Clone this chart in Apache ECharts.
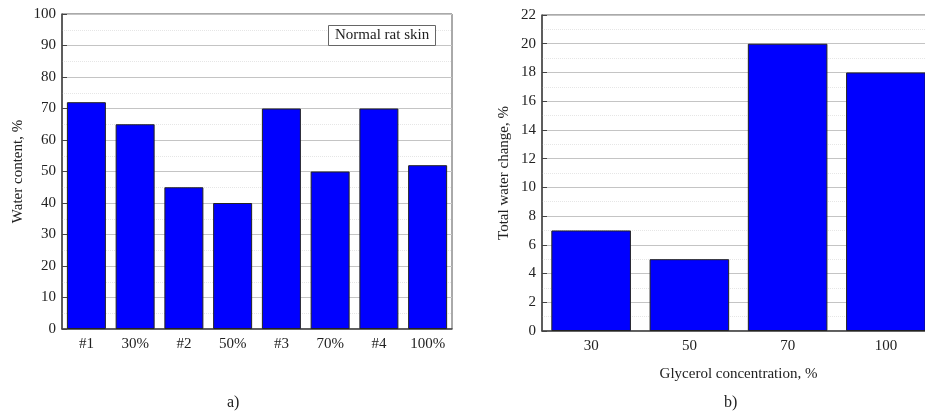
<!DOCTYPE html>
<html>
<head>
<meta charset="utf-8">
<script src="https://cdn.jsdelivr.net/npm/echarts@6/dist/echarts.min.js"></script>
<style>html,body{margin:0;padding:0;background:#fff;overflow:hidden;}#c{width:940px;height:413px;}</style>
</head>
<body>
<div id="c"></div>
<script>
const catsA = ['#1', '30%', '#2', '50%', '#3', '70%', '#4', '100%'];
const valsA = [72, 65, 45, 40, 70, 50, 70, 52];
const catsB = ['30', '50', '70', '100'];
const valsB = [7, 5, 20, 18];

const FONT = '"Liberation Serif", "Times New Roman", serif';
const TXT = '#222';

const chart = echarts.init(document.getElementById('c'), null, {renderer: 'canvas'});

function yAx(gi, min, max, interval, name, gap) {
  return {
    type: 'value', gridIndex: gi, min: min, max: max, interval: interval,
    name: name, nameLocation: 'middle', nameGap: gap, nameRotate: 90,
    nameTextStyle: {fontFamily: FONT, fontSize: 15, color: TXT},
    axisLine: {show: true, lineStyle: {color: '#444', width: 1.5}},
    axisTick: {show: true, inside: true, length: 5, lineStyle: {color: '#444'}},
    minorTick: {show: false, splitNumber: 2},
    axisLabel: {fontFamily: FONT, fontSize: 15, color: TXT, margin: 6},
    splitLine: {show: true, lineStyle: {color: '#c4c4c4', width: 1}},
    minorSplitLine: {show: true, lineStyle: {color: '#e6e6e6', width: 1, type: 'dotted'}}
  };
}
function xAx(gi, data, name) {
  return {
    type: 'category', gridIndex: gi, data: data,
    name: name, nameLocation: 'middle', nameGap: 36,
    nameTextStyle: {fontFamily: FONT, fontSize: 15, color: TXT},
    axisLine: {show: true, lineStyle: {color: '#444', width: 1.5}},
    axisTick: {show: true, inside: true, alignWithLabel: true, length: 5, lineStyle: {color: '#444'}},
    axisLabel: {fontFamily: FONT, fontSize: 15, color: TXT, margin: 8},
    splitLine: {show: false}
  };
}

chart.setOption({
  animation: false,
  backgroundColor: '#fff',
  title: [
    {text: 'Normal rat skin', left: 328, top: 25, padding: [3, 7, 3, 7],
     borderColor: '#666', borderWidth: 1, backgroundColor: '#fff',
     textStyle: {fontFamily: FONT, fontSize: 15, fontWeight: 'normal', color: TXT}},
    {text: 'a)', left: 227, top: 395, padding: 0,
     textStyle: {fontFamily: FONT, fontSize: 16, fontWeight: 'normal', color: TXT}},
    {text: 'b)', left: 724, top: 395, padding: 0,
     textStyle: {fontFamily: FONT, fontSize: 16, fontWeight: 'normal', color: TXT}}
  ],
  grid: [
    {left: 62, top: 14, width: 390, height: 315, show: true, borderColor: '#555', borderWidth: 1, containLabel: false},
    {left: 542, top: 15, width: 393, height: 316, show: true, borderColor: '#555', borderWidth: 1, containLabel: false}
  ],
  xAxis: [xAx(0, catsA, ''), xAx(1, catsB, 'Glycerol concentration, %')],
  yAxis: [yAx(0, 0, 100, 10, 'Water content, %', 36), yAx(1, 0, 22, 2, 'Total water change, %', 30)],
  series: [
    {type: 'bar', xAxisIndex: 0, yAxisIndex: 0, data: valsA, barCategoryGap: '20%',
     itemStyle: {color: '#0000ff', borderColor: '#222', borderWidth: 1}},
    {type: 'bar', xAxisIndex: 1, yAxisIndex: 1, data: valsB, barCategoryGap: '19%',
     itemStyle: {color: '#0000ff', borderColor: '#222', borderWidth: 1}}
  ]
});
</script>
</body>
</html>
